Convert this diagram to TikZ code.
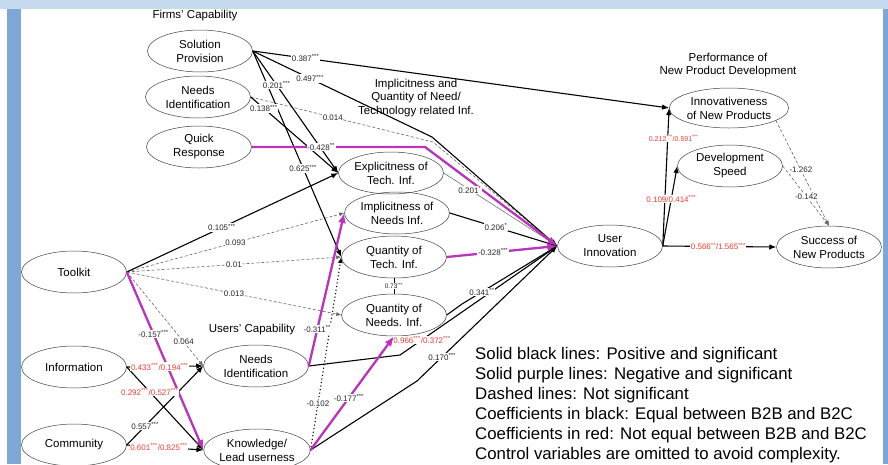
\documentclass[tikz,border=0pt]{standalone}
\usepackage{fontspec}
\setmainfont{Liberation Sans}
\usetikzlibrary{shapes.geometric,arrows.meta}
\definecolor{bandlight}{RGB}{197,218,238}
\definecolor{bandblue}{RGB}{124,167,215}
\definecolor{negpurple}{RGB}{184,52,184}
\definecolor{coefred}{RGB}{245,60,50}
\begin{document}
\begin{tikzpicture}[x=1pt,y=-1pt,
  construct/.style={ellipse,draw=black!75,line width=0.5pt,minimum width=105pt,
    minimum height=42pt,inner sep=0pt,align=center,font=\fontsize{11.5}{14}\selectfont},
  heading/.style={align=center,font=\fontsize{11.5}{13.5}\selectfont},
  coef/.style={fill=white,inner sep=0.6pt,font=\fontsize{8}{9}\selectfont,text=black!85},
  redcoef/.style={coef,text=coefred},
  possig/.style={draw=black,line width=1.1pt,-{Latex[length=7pt,width=5.5pt]}},
  negsig/.style={draw=negpurple,line width=2.3pt,-{Latex[length=10pt,width=8pt]}},
  nonsig/.style={draw=black!60,line width=0.6pt,dash pattern=on 3pt off 2pt,-{Latex[length=5pt,width=4pt]}},
  thinsig/.style={draw=black!55,line width=0.6pt,-{Latex[length=5pt,width=4pt]}},
  dotsig/.style={draw=black,line width=1.5pt,line cap=round,dash pattern=on 0pt off 3.6pt,-{Latex[length=6pt,width=5pt]}}
]
\useasboundingbox (0,0) rectangle (888,464);

% frame bands
\fill[bandlight] (0,0) rectangle (888,9);
\fill[bandblue] (7,9) rectangle (21,464);
\fill[bandblue] (883,9) rectangle (888,464);

% firms' capability
\node[construct] (sp)  at (200,51)  {Solution\\Provision};
\node[construct] (nif) at (198,97)  {Needs\\Identification};
\node[construct] (qr)  at (199,147) {Quick\\Response};
% information constructs
\node[construct] (eti) at (391,173) {Explicitness of\\Tech. Inf.};
\node[construct] (ini) at (397,213) {Implicitness of\\Needs Inf.};
\node[construct] (qti) at (394,257) {Quantity of\\Tech. Inf.};
\node[construct] (qni) at (394,315) {Quantity of\\Needs. Inf.};
% outcomes
\node[construct] (ui)  at (610,246) {User\\Innovation};
\node[construct,minimum width=118pt,minimum height=40pt] (inp) at (729,108) {Innovativeness\\of New Products};
\node[construct] (ds)  at (730,166) {Development\\Speed};
\node[construct] (snp) at (829,247) {Success of\\New Products};
% users' capability and antecedents
\node[construct] (tk)  at (74,272)  {Toolkit};
\node[construct] (inf) at (74,367)  {Information};
\node[construct] (com) at (74,445)  {Community};
\node[construct] (niu) at (256,366) {Needs\\Identification};
\node[construct] (kl)  at (257,450) {Knowledge/\\Lead userness};

% group headings
\node[heading] (hfirm) at (195,16) {Firms' Capability};
\node[heading] (himp)  at (416,98) {Implicitness and\\Quantity of Need/\\Technology related Inf.};
\node[heading] (hperf) at (728,65) {Performance of\\New Product Development};
\node[heading] (huser) at (252,330) {Users' Capability};

% bend points of the routed paths
\coordinate (bA) at (432,137);
\coordinate (bB) at (425,147);
\coordinate (bC) at (433,142);
\coordinate (bD) at (462,304);
\coordinate (bE) at (400,355);
\coordinate (bF) at (417,381);

% non-significant paths
\draw[nonsig] (nif.east) -- (bC) coordinate[pos=0.45] (c014) -- (ui.west);
\draw[nonsig] (tk.east) -- (ini.west) coordinate[pos=0.5] (c093);
\draw[nonsig] (tk.east) -- (qti.west) coordinate[pos=0.5] (c001);
\draw[nonsig] (tk.east) -- (qni.west) coordinate[pos=0.5] (c013);
\draw[nonsig] (tk.east) -- (niu.west) coordinate[pos=0.745] (c064);
\draw[nonsig] (inp.-15) -- (snp.north) coordinate[pos=0.47] (c1262);
\draw[nonsig] (ds.east) -- (snp.north) coordinate[pos=0.51] (c0142);
\draw[dotsig] (kl.east) -- (qti.west) coordinate[pos=0.24] (c0102);
\draw[thinsig] (eti.east) -- (ui.west) coordinate[pos=0.23] (c0201);

% positive significant paths
\draw[possig] (sp.east) -- (inp.west) coordinate[pos=0.127] (c0387);
\draw[possig] (sp.east) -- (bA) coordinate[pos=0.32] (c0497) -- (ui.west);
\draw[possig] (sp.east) -- (eti.west) coordinate[pos=0.28] (c0201b);
\draw[possig] (sp.east) -- (qti.west) coordinate[pos=0.57] (c0625);
\draw[possig] (nif.east) -- (eti.west) coordinate[pos=0.15] (c0138);
\draw[possig] (tk.east) -- (eti.west) coordinate[pos=0.45] (c0105);
\draw[possig] (ini.east) -- (ui.west) coordinate[pos=0.43] (c0206);
\draw[possig] (qni.east) -- (bD) -- (ui.west) coordinate[pos=0.21] (c0341);
\draw[possig] (niu.east) -- (bE) -- (ui.west) coordinate[pos=0.14] (c0966);
\draw[possig] (kl.east) -- (bF) -- (ui.west) coordinate[pos=0.18] (c0170);
\draw[possig] (inf.east) -- (niu.west) coordinate[pos=0.43] (c0433);
\draw[possig] (inf.east) -- (kl.west) coordinate[pos=0.3] (c0292);
\draw[possig] (com.east) -- (niu.west) coordinate[pos=0.24] (c0557);
\draw[possig] (com.east) -- (kl.west) coordinate[pos=0.42] (c0601);
\draw[possig] (ui.east) -- (inp.west) coordinate[pos=0.78] (c0212);
\draw[possig] (ui.east) -- (ds.west) coordinate[pos=0.59] (c0109);
\draw[possig] (ui.east) -- (snp.west) coordinate[pos=0.49] (c0566);
\draw[black,line width=0.8pt] (qti.south) -- (qni.north) coordinate[pos=0.5] (c073);

% negative significant paths
\draw[negsig] (qr.east) -- (bB) coordinate[pos=0.4] (c0428) -- (ui.west);
\draw[negsig] (qti.east) -- (ui.west) coordinate[pos=0.42] (c0328);
\draw[negsig] (tk.east) -- (kl.west) coordinate[pos=0.35] (c0157);
\draw[negsig] (niu.east) -- (ini.west) coordinate[pos=0.24] (c0311);
\draw[negsig] (kl.east) -- (qni.south) coordinate[pos=0.46] (c0177);

% path coefficients
\node[coef] (l0387) at (c0387) {0.387\textsuperscript{***}};
\node[coef] (l0497) at (c0497) {0.497\textsuperscript{***}};
\node[coef] (l0201b) at (c0201b) {0.201\textsuperscript{***}};
\node[coef] (l0625) at (c0625) {0.625\textsuperscript{***}};
\node[coef] (l0138) at (c0138) {0.138\textsuperscript{***}};
\node[coef] (l014) at (c014) {0.014};
\node[coef] (l0428) at (c0428) {-0.428\textsuperscript{**}};
\node[coef] (l0201) at (c0201) {0.201\textsuperscript{*}};
\node[coef] (l0206) at (c0206) {0.206\textsuperscript{*}};
\node[coef] (l0328) at (c0328) {-0.328\textsuperscript{***}};
\node[coef] (l0341) at (c0341) {0.341\textsuperscript{**}};
\node[redcoef] (l0966) at (c0966) {0.966\textsuperscript{***}/0.372\textsuperscript{***}};
\node[coef] (l0170) at (c0170) {0.170\textsuperscript{***}};
\node[coef] (l0105) at (c0105) {0.105\textsuperscript{***}};
\node[coef] (l093) at (c093) {0.093};
\node[coef] (l001) at (c001) {0.01};
\node[coef] (l013) at (c013) {0.013};
\node[coef] (l064) at (c064) {0.064};
\node[coef] (l0157) at (c0157) {-0.157\textsuperscript{***}};
\node[redcoef] (l0433) at (c0433) {0.433\textsuperscript{***}/0.194\textsuperscript{***}};
\node[redcoef] (l0292) at (c0292) {0.292\textsuperscript{***}/0.527\textsuperscript{***}};
\node[coef] (l0557) at (c0557) {0.557\textsuperscript{***}};
\node[redcoef] (l0601) at (c0601) {0.601\textsuperscript{***}/0.825\textsuperscript{***}};
\node[coef] (l0311) at (c0311) {-0.311\textsuperscript{**}};
\node[coef] (l0102) at (c0102) {-0.102};
\node[coef] (l0177) at (c0177) {-0.177\textsuperscript{***}};
\node[coef,font=\fontsize{6.5}{7}\selectfont] (l073) at (c073) {0.73\textsuperscript{***}};
\node[redcoef,font=\fontsize{7}{8}\selectfont,xshift=6pt] (l0212) at (c0212) {0.212\textsuperscript{***}/0.591\textsuperscript{***}};
\node[redcoef] (l0109) at (c0109) {0.109/0.414\textsuperscript{***}};
\node[redcoef] (l0566) at (c0566) {0.566\textsuperscript{**}/1.565\textsuperscript{***}};
\node[coef] (l1262) at (c1262) {-1.262};
\node[coef] (l0142) at (c0142) {-0.142};

% legend
\node[anchor=north west,align=left,inner sep=0pt,font=\fontsize{16.8}{20}\selectfont] (legend) at (475,347)
  {Solid black lines: Positive and significant\\
   Solid purple lines: Negative and significant\\
   Dashed lines: Not significant\\
   Coefficients in black: Equal between B2B and B2C\\
   Coefficients in red: Not equal between B2B and B2C\\
   Control variables are omitted to avoid complexity.};
\end{tikzpicture}
\end{document}
